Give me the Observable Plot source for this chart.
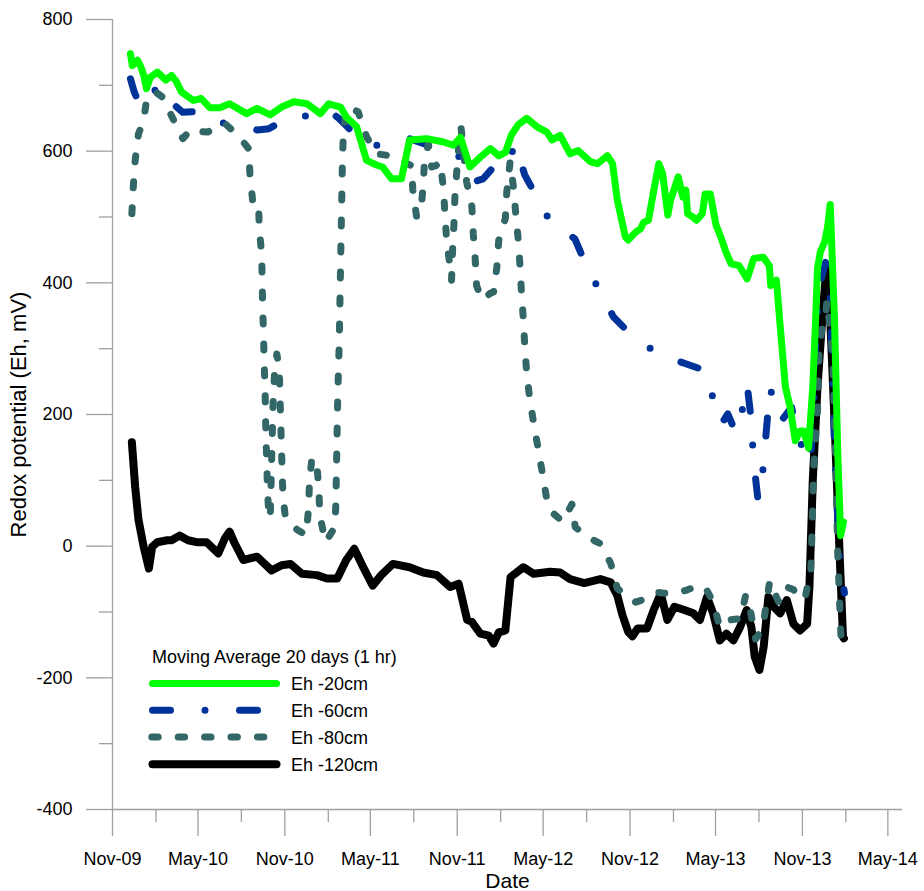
<!DOCTYPE html>
<html>
<head>
<meta charset="utf-8">
<script src="https://cdn.jsdelivr.net/npm/d3@7"></script>
<script src="https://cdn.jsdelivr.net/npm/@observablehq/plot@0.6"></script>
<style>
  body { margin: 0; background: #fff; }
  #wrap { position: relative; width: 924px; height: 891px; }
  #legend { position: absolute; left: 0; top: 0; pointer-events: none; }
</style>
</head>
<body>
<div id="wrap"></div>
<script>
// ---------- axis definitions ----------
const xDomain = ["2009-11-01", "2014-06-01"];
const yDomain = [-400, 800];
const yMajorTicks = [-400, -200, 0, 200, 400, 600, 800];
const yMinorTicks = [-300, -100, 100, 300, 500, 700];
const xMajorTicks = ["2009-11-01","2010-05-01","2010-11-01","2011-05-01","2011-11-01","2012-05-01","2012-11-01","2013-05-01","2013-11-01","2014-05-01"];
const xTickLabels = ["Nov-09","May-10","Nov-10","May-11","Nov-11","May-12","Nov-12","May-13","Nov-13","May-14"];
const xMinorTicks = ["2010-02-01","2010-08-01","2011-02-01","2011-08-01","2012-02-01","2012-08-01","2013-02-01","2013-08-01","2014-02-01"];

const seriesNames = ["Eh -20cm", "Eh -60cm", "Eh -80cm", "Eh -120cm"];
const legendTitle = "Moving Average 20 days (1 hr)";
const xLabel = "Date";
const yLabel = "Redox potential (Eh, mV)";

// ---------- series (date, Eh mV) ----------
const eh20 = [["2009-12-09",748],["2009-12-13",730],["2009-12-19",734],["2009-12-24",738],["2009-12-30",730],["2010-01-06",716],["2010-01-12",695],["2010-01-20",712],["2010-02-04",720],["2010-02-22",708],["2010-03-06",715],["2010-03-16",706],["2010-03-27",690],["2010-04-21",677],["2010-05-08",680],["2010-05-26",666],["2010-06-16",666],["2010-07-07",672],["2010-08-12",657],["2010-09-03",665],["2010-10-01",655],["2010-10-25",667],["2010-11-20",675],["2010-12-18",672],["2011-01-15",657],["2011-02-02",672],["2011-02-27",667],["2011-03-11",652],["2011-04-02",637],["2011-04-23",586],["2011-05-14",579],["2011-05-27",576],["2011-06-15",558],["2011-07-06",558],["2011-07-23",617],["2011-08-28",619],["2011-10-03",614],["2011-10-24",609],["2011-11-08",621],["2011-11-28",576],["2011-12-20",591],["2012-01-10",604],["2012-01-28",593],["2012-02-11",598],["2012-02-24",625],["2012-03-09",640],["2012-03-27",650],["2012-04-18",637],["2012-05-09",629],["2012-05-20",617],["2012-06-06",624],["2012-06-27",596],["2012-07-14",601],["2012-08-09",584],["2012-08-24",581],["2012-09-14",593],["2012-09-25",581],["2012-10-05",526],["2012-10-22",470],["2012-10-28",465],["2012-11-13",477],["2012-11-23",482],["2012-11-30",492],["2012-12-10",495],["2012-12-20",535],["2013-01-01",581],["2013-01-09",566],["2013-01-20",503],["2013-01-26",526],["2013-02-11",561],["2013-02-21",530],["2013-02-27",541],["2013-03-03",505],["2013-03-14",500],["2013-03-22",495],["2013-04-03",505],["2013-04-09",535],["2013-04-20",535],["2013-05-02",488],["2013-05-13",468],["2013-05-23",447],["2013-06-03",429],["2013-06-20",426],["2013-07-07",406],["2013-07-21",437],["2013-08-10",439],["2013-08-23",426],["2013-08-26",396],["2013-09-07",404],["2013-09-15",334],["2013-09-26",242],["2013-10-06",211],["2013-10-17",160],["2013-10-27",175],["2013-11-04",175],["2013-11-14",149],["2013-11-23",242],["2013-11-29",345],["2013-12-03",422],["2013-12-09",447],["2013-12-18",462],["2013-12-24",483],["2013-12-30",519],["2014-01-08",345],["2014-01-15",139],["2014-01-21",16],["2014-01-27",37]];

const eh60 = [["2009-12-09",710],["2009-12-17",690],["2009-12-23",680],["2010-01-06",668],["2010-01-17",672],["2010-01-27",690],["2010-02-07",700],["2010-02-22",690],["2010-02-28",685],["2010-03-12",670],["2010-03-30",659],["2010-04-24",660],["2010-05-19",657],["2010-06-16",644],["2010-07-11",640],["2010-08-09",636],["2010-09-04",632],["2010-09-28",634],["2010-10-22",644],["2010-11-13",650],["2010-12-07",655],["2010-12-29",650],["2011-01-19",647],["2011-02-10",657],["2011-02-23",650],["2011-03-08",641],["2011-03-29",625],["2011-04-19",612],["2011-05-10",608],["2011-06-08",615],["2011-07-02",617],["2011-07-23",619],["2011-08-24",611],["2011-09-26",600],["2011-10-17",595],["2011-11-11",591],["2011-11-28",558],["2011-12-13",555],["2011-12-26",558],["2012-01-17",576],["2012-02-11",574],["2012-02-21",590],["2012-03-02",610],["2012-03-12",590],["2012-03-23",564],["2012-04-14",535],["2012-05-16",493],["2012-06-12",480],["2012-07-07",467],["2012-07-25",437],["2012-08-26",391],["2012-09-27",348],["2012-10-29",325],["2012-11-23",312],["2012-12-24",295],["2013-01-26",285],["2013-02-27",277],["2013-04-09",267],["2013-04-26",224],["2013-05-14",186],["2013-05-27",201],["2013-06-13",172],["2013-06-27",208],["2013-07-01",237],["2013-07-07",245],["2013-07-14",202],["2013-07-19",150],["2013-07-22",121],["2013-07-30",70],["2013-08-09",113],["2013-08-13",145],["2013-08-19",195],["2013-08-26",240],["2013-09-01",208],["2013-09-18",191],["2013-10-09",211],["2013-10-16",190],["2013-10-29",155],["2013-11-11",145],["2013-11-18",127],["2013-11-24",200],["2013-11-30",330],["2013-12-09",400],["2013-12-20",431],["2013-12-24",416],["2013-12-30",380],["2014-01-08",150],["2014-01-19",-25],["2014-01-26",-56],["2014-01-29",-71]];

const eh80 = [["2009-12-12",505],["2009-12-15",546],["2009-12-19",586],["2009-12-26",626],["2010-01-06",647],["2010-01-13",682],["2010-01-31",690],["2010-02-15",682],["2010-02-25",667],["2010-03-16",639],["2010-03-30",619],["2010-04-17",634],["2010-05-05",630],["2010-05-22",629],["2010-06-06",636],["2010-06-27",642],["2010-07-25",624],["2010-08-16",604],["2010-08-19",566],["2010-08-25",523],["2010-09-06",523],["2010-09-08",482],["2010-09-13",442],["2010-09-15",361],["2010-09-17",320],["2010-09-18",280],["2010-09-20",242],["2010-09-22",164],["2010-09-24",123],["2010-09-25",87],["2010-09-28",48],["2010-10-01",42],["2010-10-03",100],["2010-10-05",160],["2010-10-07",215],["2010-10-10",260],["2010-10-15",292],["2010-10-20",270],["2010-10-22",220],["2010-10-24",170],["2010-10-26",120],["2010-10-28",75],["2010-11-02",45],["2010-11-09",37],["2010-11-27",25],["2010-12-16",17],["2010-12-21",55],["2010-12-23",93],["2010-12-28",133],["2011-01-07",130],["2011-01-12",87],["2011-01-14",47],["2011-01-26",6],["2011-02-15",29],["2011-02-17",65],["2011-02-19",146],["2011-02-21",227],["2011-02-24",305],["2011-02-26",386],["2011-02-28",467],["2011-03-02",548],["2011-03-03",589],["2011-03-05",627],["2011-03-11",667],["2011-03-22",664],["2011-04-05",660],["2011-04-23",622],["2011-05-14",596],["2011-06-03",594],["2011-06-26",589],["2011-07-13",583],["2011-07-27",578],["2011-07-30",541],["2011-08-07",500],["2011-08-12",505],["2011-08-17",516],["2011-08-21",548],["2011-08-24",589],["2011-09-01",611],["2011-09-08",576],["2011-09-17",578],["2011-09-26",584],["2011-10-03",543],["2011-10-06",503],["2011-10-10",462],["2011-10-17",424],["2011-10-20",404],["2011-10-22",447],["2011-10-25",488],["2011-10-27",528],["2011-10-31",569],["2011-11-04",606],["2011-11-09",637],["2011-11-21",553],["2011-12-02",516],["2011-12-05",475],["2011-12-09",437],["2011-12-12",396],["2011-12-23",374],["2012-01-10",384],["2012-01-17",386],["2012-01-24",424],["2012-01-28",465],["2012-02-11",498],["2012-02-14",538],["2012-02-21",584],["2012-02-28",546],["2012-03-04",505],["2012-03-09",467],["2012-03-13",426],["2012-03-16",386],["2012-03-20",345],["2012-03-23",305],["2012-03-27",265],["2012-04-02",227],["2012-04-11",186],["2012-04-21",146],["2012-04-30",108],["2012-05-09",70],["2012-05-22",50],["2012-06-12",37],["2012-07-01",64],["2012-07-08",29],["2012-08-04",13],["2012-08-30",4],["2012-09-21",-26],["2012-10-05",-64],["2012-10-22",-75],["2012-11-13",-85],["2012-12-04",-80],["2012-12-24",-70],["2013-01-22",-72],["2013-02-11",-70],["2013-02-28",-67],["2013-03-18",-62],["2013-04-09",-62],["2013-04-26",-85],["2013-05-10",-123],["2013-06-01",-112],["2013-06-23",-110],["2013-07-04",-74],["2013-07-15",-102],["2013-07-25",-141],["2013-08-09",-125],["2013-08-16",-90],["2013-08-24",-53],["2013-09-11",-84],["2013-09-25",-61],["2013-10-13",-66],["2013-10-27",-82],["2013-11-08",-74],["2013-11-19",-36],["2013-11-22",40],["2013-11-25",120],["2013-12-03",206],["2013-12-06",293],["2013-12-13",334],["2013-12-20",350],["2013-12-23",373],["2013-12-28",340],["2014-01-04",293],["2014-01-10",150],["2014-01-15",-15],["2014-01-18",-66],["2014-01-20",-108],["2014-01-22",-143]];

const eh120 = [["2009-12-12",158],["2009-12-19",90],["2009-12-26",40],["2010-01-06",-1],["2010-01-17",-34],["2010-01-24",-1],["2010-02-04",6],["2010-02-25",9],["2010-03-06",9],["2010-03-23",16],["2010-04-10",9],["2010-04-28",6],["2010-05-19",6],["2010-06-13",-11],["2010-06-27",12],["2010-07-07",22],["2010-07-18",4],["2010-08-05",-21],["2010-09-03",-16],["2010-10-04",-37],["2010-10-25",-29],["2010-11-13",-27],["2010-12-07",-42],["2011-01-08",-44],["2011-01-29",-49],["2011-02-20",-49],["2011-03-11",-21],["2011-03-28",-4],["2011-04-16",-32],["2011-05-06",-60],["2011-05-24",-44],["2011-06-18",-27],["2011-07-23",-32],["2011-08-21",-40],["2011-09-19",-44],["2011-10-17",-62],["2011-11-04",-57],["2011-11-22",-112],["2011-12-02",-115],["2011-12-20",-133],["2012-01-07",-136],["2012-01-17",-148],["2012-01-28",-131],["2012-02-11",-128],["2012-02-22",-47],["2012-03-20",-32],["2012-04-11",-42],["2012-05-16",-39],["2012-06-06",-40],["2012-06-27",-50],["2012-07-27",-56],["2012-08-30",-50],["2012-09-21",-55],["2012-10-05",-75],["2012-10-16",-105],["2012-10-28",-130],["2012-11-06",-137],["2012-11-17",-125],["2012-12-07",-125],["2012-12-21",-97],["2013-01-05",-72],["2013-01-19",-112],["2013-02-03",-92],["2013-02-24",-97],["2013-03-15",-102],["2013-03-29",-112],["2013-04-13",-77],["2013-04-26",-102],["2013-05-10",-143],["2013-05-24",-133],["2013-06-08",-143],["2013-06-22",-123],["2013-07-06",-97],["2013-07-16",-123],["2013-07-23",-168],["2013-08-02",-188],["2013-08-11",-153],["2013-08-21",-77],["2013-09-01",-92],["2013-09-15",-102],["2013-09-29",-82],["2013-10-13",-118],["2013-10-27",-128],["2013-11-11",-118],["2013-11-16",-60],["2013-11-23",100],["2013-12-03",242],["2013-12-13",345],["2013-12-20",406],["2013-12-24",425],["2013-12-27",396],["2014-01-08",191],["2014-01-19",-15],["2014-01-26",-138],["2014-01-28",-140]];

// ---------- styles ----------
const colors = ["#00ff00", "#003399", "#336666", "#000000"];
const widths = [7, 7, 7, 8];
const chartDash = [null, "18 34 0 34", "6 20", null];
const legendDash = [null, "18 34.5 0 34.5", "6.4 20", null];
const axisGray = "#a0a0a0";
const font = "'Liberation Sans', Arial, Helvetica, sans-serif";

const parse = d3.utcParse("%Y-%m-%d");
const toRows = s => s.map(([d, v]) => ({date: parse(d), value: v}));
const seriesData = [eh20, eh60, eh80, eh120].map(toRows);
const labelMap = new Map(xMajorTicks.map((d, i) => [+parse(d), xTickLabels[i]]));

const drawOrder = [3, 1, 2, 0]; // black bottom, green on top
const lineMarks = drawOrder.map(i => Plot.line(seriesData[i], {
  x: "date", y: "value",
  stroke: colors[i], strokeWidth: widths[i],
  strokeDasharray: chartDash[i] ?? undefined,
  strokeLinecap: "round", strokeLinejoin: "round"
}));

const plot = Plot.plot({
  width: 924, height: 891,
  marginLeft: 112, marginRight: 22, marginTop: 19, marginBottom: 82,
  style: {fontFamily: font, fontSize: "18px", background: "#fff", overflow: "visible"},
  x: {type: "utc", domain: xDomain.map(parse)},
  y: {domain: yDomain},
  marks: [
    Plot.axisY(yMinorTicks, {tickSize: 13, tickFormat: () => "", stroke: axisGray, strokeWidth: 1.3, label: null}),
    Plot.axisY(yMajorTicks, {tickSize: 26, tickPadding: 14, tickFormat: d => `${d}`, stroke: axisGray, strokeWidth: 1.3, fill: "#000", fontSize: 18, label: null}),
    Plot.axisX(xMinorTicks.map(parse), {tickSize: 13, tickFormat: () => "", stroke: axisGray, strokeWidth: 1.3, label: null}),
    Plot.axisX(xMajorTicks.map(parse), {tickSize: 27, tickPadding: 16, tickFormat: d => labelMap.get(+d), stroke: axisGray, strokeWidth: 1.3, fill: "#000", fontSize: 18, label: null}),
    Plot.ruleX([parse(xDomain[0])], {stroke: axisGray, strokeWidth: 1.3}),
    Plot.ruleY([yDomain[0]], {stroke: axisGray, strokeWidth: 1.3}),
    ...lineMarks,
    Plot.text([xLabel], {text: d => d, frameAnchor: "bottom", dy: 78, fontSize: 21, fill: "#000"}),
    Plot.text([yLabel], {text: d => d, frameAnchor: "left", textAnchor: "middle", dx: -94, rotate: -90, fontSize: 22, fill: "#000"})
  ]
});

const wrap = document.getElementById("wrap");
wrap.append(plot);

// ---------- legend (inside the plot area) ----------
const lg = d3.select(wrap).append("svg")
  .attr("id", "legend").attr("width", 924).attr("height", 891)
  .style("font-family", font).style("font-size", "18px");

lg.append("text").attr("x", 152).attr("y", 663).attr("fill", "#000").text(legendTitle);

const rowY = [683.5, 710.3, 737, 764.3];
seriesNames.forEach((name, i) => {
  const g = lg.append("g");
  g.append("line")
    .attr("x1", i === 2 ? 151.8 : 152.5).attr("x2", 276.5)
    .attr("y1", rowY[i]).attr("y2", rowY[i])
    .attr("stroke", colors[i]).attr("stroke-width", widths[i])
    .attr("stroke-linecap", "round")
    .attr("stroke-dasharray", legendDash[i]);
  g.append("text").attr("x", 291).attr("y", rowY[i] + 6.6).attr("fill", "#000").text(name);
});
</script>
</body>
</html>
